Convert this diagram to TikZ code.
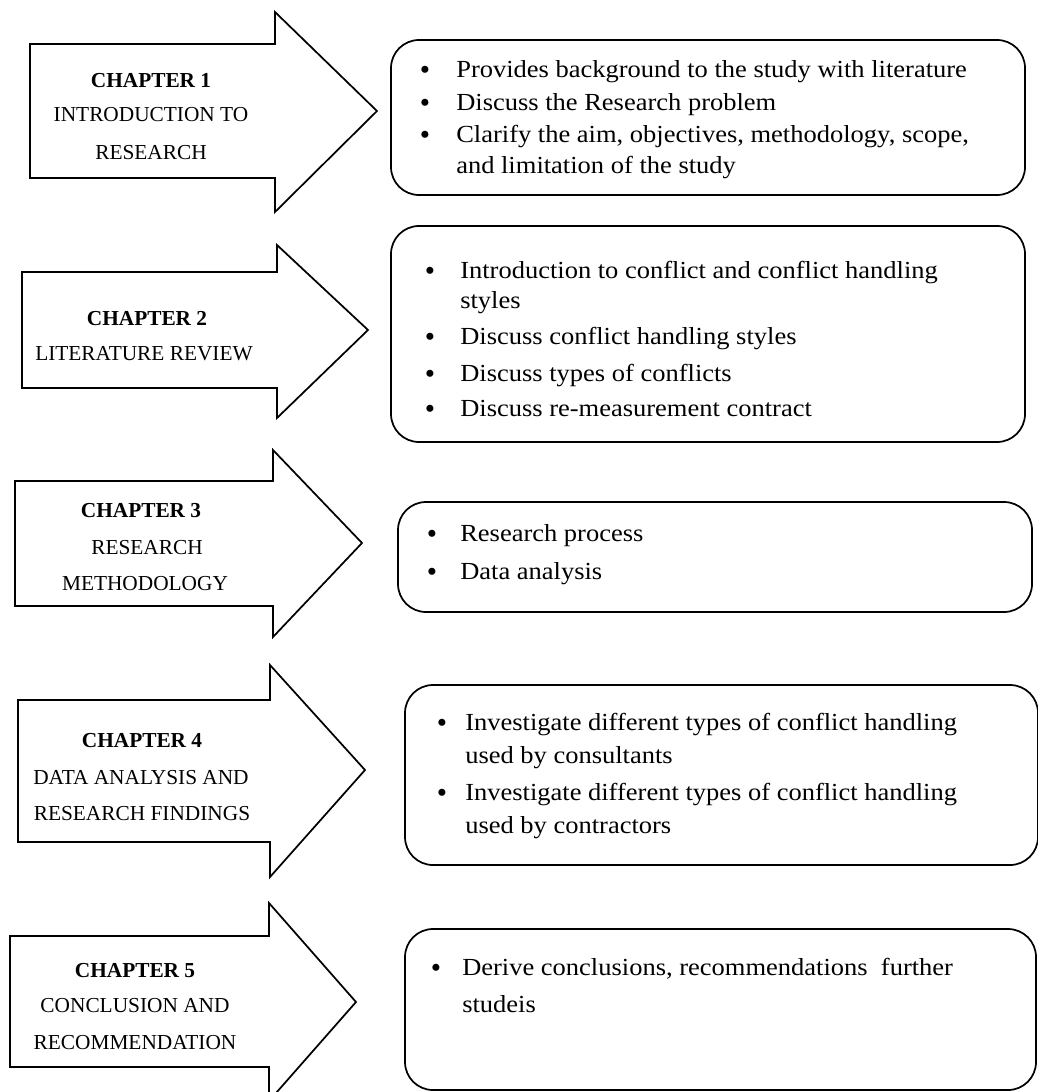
\documentclass[tikz,border=0pt]{standalone}
\usepackage{fontspec}
\setmainfont{Liberation Serif}
\newfontfamily\itemfont[FakeStretch=1.08]{Liberation Serif}
\usetikzlibrary{fit}
\newcommand\chaparrow[8]{%
  \draw[arrowshape] (#1,#2) -- (#4,#2) -- (#4,#5) -- (#7,#8) -- (#4,#6) -- (#4,#3) -- (#1,#3) -- cycle;}
\tikzset{
  arrowshape/.style={line width=1.3pt, line join=miter, fill=white},
  roundbox/.style={draw, line width=1.3pt, rounded corners=21pt, inner sep=0pt},
  chapline/.style={anchor=base, inner sep=0pt, font=\fontsize{16}{19}\selectfont},
  chaptitle/.style={chapline, font=\fontsize{16}{19}\selectfont\bfseries},
  bul/.style={anchor=base, inner sep=0pt, yshift=-2.2pt, font=\fontsize{22}{24}\selectfont},
  itemline/.style={anchor=base west, inner sep=0pt, font=\itemfont\fontsize{18.4}{21}\selectfont},
}
\begin{document}
\begin{tikzpicture}[x=0.75pt,y=-0.75pt]
\useasboundingbox (0,0) rectangle (1038,1092);
\fill[white] (0,0) rectangle (1038,1092);

% ---------- arrows ----------
\chaparrow{30}{44}{178}{275}{12}{212}{377}{111}
\chaparrow{22}{272}{388}{277}{245}{418}{368}{330}
\chaparrow{15}{481}{606}{273}{450}{637}{362}{543}
\chaparrow{18}{700}{842}{270}{665}{877}{365}{770}
\chaparrow{10}{936}{1067}{269}{903}{1101}{356}{1002}

% ---------- chapter labels ----------
\node[chaptitle] (c1a) at (151,87) {CHAPTER 1};
\node[chapline]  (c1b) at (151,121) {INTRODUCTION TO};
\node[chapline]  (c1c) at (151,159) {RESEARCH};

\node[chaptitle] (c2a) at (147,325) {CHAPTER 2};
\node[chapline]  (c2b) at (144,360) {LITERATURE REVIEW};

\node[chaptitle] (c3a) at (141,517) {CHAPTER 3};
\node[chapline]  (c3b) at (147,554) {RESEARCH};
\node[chapline]  (c3c) at (145,590) {METHODOLOGY};

\node[chaptitle] (c4a) at (142,747) {CHAPTER 4};
\node[chapline]  (c4b) at (141,784) {DATA ANALYSIS AND};
\node[chapline]  (c4c) at (142,820) {RESEARCH FINDINGS};

\node[chaptitle] (c5a) at (135,977) {CHAPTER 5};
\node[chapline]  (c5b) at (135,1012) {CONCLUSION AND};
\node[chapline]  (c5c) at (135,1049) {RECOMMENDATION};

% ---------- boxes ----------
\node[roundbox, fit={(391,40) (1025,195)}] (b1) {};
\node[roundbox, fit={(391,226) (1025,442)}] (b2) {};
\node[roundbox, fit={(398,502) (1032,612)}] (b3) {};
\node[roundbox, fit={(405,685) (1038,865)}] (b4) {};
\node[roundbox, fit={(405,929) (1036,1090)}] (b5) {};

% ---------- box 1 ----------
\node[bul] (b1d1) at (425,77) {•};
\node[itemline] (b1t1) at (456,77) {Provides background to the study with literature};
\node[bul] (b1d2) at (425,110) {•};
\node[itemline] (b1t2) at (456,110) {Discuss the Research problem};
\node[bul] (b1d3) at (425,142) {•};
\node[itemline] (b1t3) at (456,142) {Clarify the aim, objectives, methodology, scope,};
\node[itemline] (b1t4) at (456,173) {and limitation of the study};

% ---------- box 2 ----------
\node[bul] (b2d1) at (430,278) {•};
\node[itemline] (b2t1) at (460,278) {Introduction to conflict and conflict handling};
\node[itemline] (b2t2) at (460,308) {styles};
\node[bul] (b2d2) at (430,344) {•};
\node[itemline] (b2t3) at (460,344) {Discuss conflict handling styles};
\node[bul] (b2d3) at (430,381) {•};
\node[itemline] (b2t4) at (460,381) {Discuss types of conflicts};
\node[bul] (b2d4) at (430,416) {•};
\node[itemline] (b2t5) at (460,416) {Discuss re-measurement contract};

% ---------- box 3 ----------
\node[bul] (b3d1) at (432,541) {•};
\node[itemline] (b3t1) at (460,541) {Research process};
\node[bul] (b3d2) at (432,579) {•};
\node[itemline] (b3t2) at (460,579) {Data analysis};

% ---------- box 4 ----------
\node[bul] (b4d1) at (442,730) {•};
\node[itemline] (b4t1) at (465,730) {Investigate different types of conflict handling};
\node[itemline] (b4t2) at (465,763) {used by consultants};
\node[bul] (b4d2) at (442,800) {•};
\node[itemline] (b4t3) at (465,800) {Investigate different types of conflict handling};
\node[itemline] (b4t4) at (465,833) {used by contractors};

% ---------- box 5 ----------
\node[bul] (b5d1) at (436,975) {•};
\node[itemline] (b5t1) at (462,975) {Derive conclusions, recommendations\ \ further};
\node[itemline] (b5t2) at (462,1012) {studeis};
\end{tikzpicture}
\end{document}
